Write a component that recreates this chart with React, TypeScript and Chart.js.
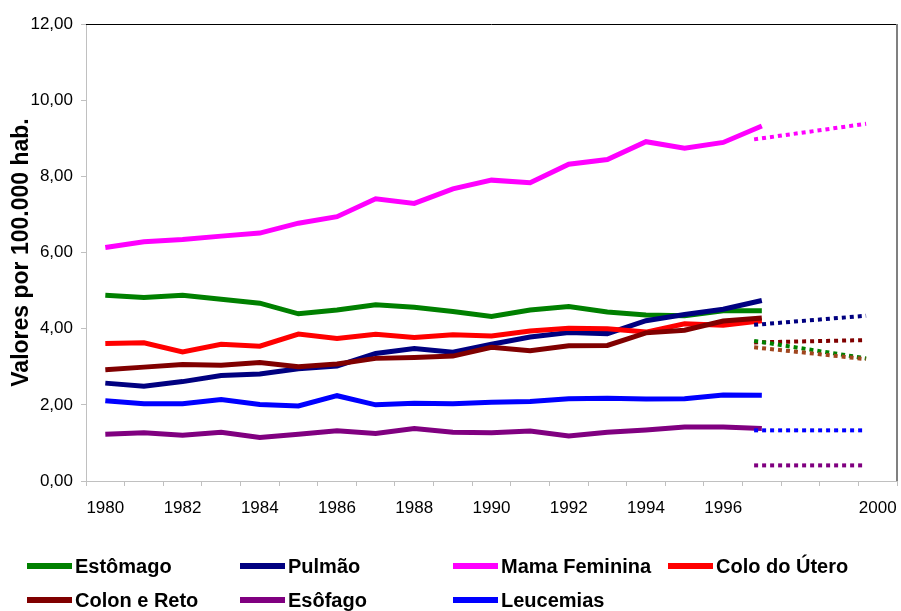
import React, { useEffect, useRef } from 'react';
import { Chart, registerables } from 'chart.js';

Chart.register(...registerables);

// Categories (one per year band) and the labels actually shown on the axis
const categories = [
  '1980', '1981', '1982', '1983', '1984', '1985', '1986', '1987', '1988', '1989',
  '1990', '1991', '1992', '1993', '1994', '1995', '1996', '1997', '1998', '1999', '2000',
];
const shownYearLabels = ['1980', '1982', '1984', '1986', '1988', '1990', '1992', '1994', '1996', '2000'];

// Observed series 1980-1997
const estomago = [4.88, 4.82, 4.88, 4.77, 4.67, 4.39, 4.49, 4.63, 4.56, 4.45, 4.32, 4.49, 4.58, 4.44, 4.36, 4.34, 4.47, 4.47];
const pulmao = [2.57, 2.49, 2.61, 2.77, 2.81, 2.95, 3.02, 3.35, 3.48, 3.38, 3.59, 3.78, 3.9, 3.87, 4.21, 4.37, 4.51, 4.74];
const mamaFeminina = [6.13, 6.28, 6.34, 6.43, 6.51, 6.77, 6.94, 7.41, 7.29, 7.67, 7.9, 7.83, 8.32, 8.44, 8.91, 8.74, 8.89, 9.32];
const coloUtero = [3.61, 3.63, 3.39, 3.59, 3.54, 3.86, 3.74, 3.85, 3.77, 3.84, 3.81, 3.94, 4.01, 4.0, 3.91, 4.13, 4.09, 4.21];
const colonReto = [2.92, 2.99, 3.06, 3.04, 3.11, 3.0, 3.07, 3.22, 3.24, 3.28, 3.51, 3.42, 3.55, 3.56, 3.89, 3.96, 4.2, 4.28];
const esofago = [1.23, 1.27, 1.2, 1.28, 1.14, 1.23, 1.32, 1.25, 1.38, 1.28, 1.27, 1.31, 1.18, 1.28, 1.34, 1.42, 1.42, 1.38];
const leucemias = [2.11, 2.03, 2.03, 2.14, 2.01, 1.97, 2.24, 2.0, 2.04, 2.03, 2.07, 2.09, 2.16, 2.17, 2.15, 2.16, 2.26, 2.25];

// Projections (dotted), start and end year positions
const projYears = [1996.8, 1999.7];
const projMama = [8.97, 9.38];
const projPulmao = [4.1, 4.34];
const projColon = [3.64, 3.7];
const projEstomago = [3.68, 3.22];
const projColo = [3.51, 3.2];
const projLeucemias = [1.33, 1.33];
const projEsofago = [0.41, 0.41];

const yMin = 0;
const yMax = 12;
const yStep = 2;

const series = [
  { label: 'Estômago', data: estomago, color: '#008000' },
  { label: 'Pulmão', data: pulmao, color: '#000080' },
  { label: 'Mama Feminina', data: mamaFeminina, color: '#FF00FF' },
  { label: 'Colo do Útero', data: coloUtero, color: '#FF0000' },
  { label: 'Colon e Reto', data: colonReto, color: '#800000' },
  { label: 'Esôfago', data: esofago, color: '#800080' },
  { label: 'Leucemias', data: leucemias, color: '#0000FF' },
];

const projections = [
  { data: projMama, color: '#FF00FF' },
  { data: projPulmao, color: '#000080' },
  { data: projColon, color: '#800000' },
  { data: projEstomago, color: '#008000' },
  { data: projColo, color: '#A0461E' },
  { data: projLeucemias, color: '#0000FF' },
  { data: projEsofago, color: '#800080' },
];

const legendRows = [
  ['Estômago', 'Pulmão', 'Mama Feminina', 'Colo do Útero'],
  ['Colon e Reto', 'Esôfago', 'Leucemias'],
];

const FONT = '"Liberation Sans", Arial, sans-serif';

const plotBorder = {
  id: 'plotBorder',
  afterDraw(chart: any) {
    const { ctx, chartArea } = chart;
    ctx.save();
    ctx.strokeStyle = '#000000';
    ctx.lineWidth = 1;
    ctx.beginPath();
    ctx.moveTo(chartArea.left, chartArea.top + 0.5);
    ctx.lineTo(chartArea.right, chartArea.top + 0.5);
    ctx.stroke();
    ctx.strokeStyle = '#808080';
    ctx.lineWidth = 2;
    ctx.beginPath();
    ctx.moveTo(chartArea.right, chartArea.top);
    ctx.lineTo(chartArea.right, chartArea.bottom);
    ctx.stroke();
    ctx.restore();
  },
};

export default function App() {
  const canvasRef = useRef<HTMLCanvasElement | null>(null);

  useEffect(() => {
    if (!canvasRef.current) return;
    const solidSets = series.map((s, i) => ({
      label: s.label,
      data: s.data,
      borderColor: s.color,
      backgroundColor: s.color,
      borderWidth: 5,
      pointRadius: 0,
      tension: 0,
      fill: false,
      xAxisID: 'x',
      order: 20 - i,
    }));
    const projSets = projections.map((p, i) => ({
      label: 'proj' + i,
      data: projYears.map((yr, k) => ({ x: yr, y: p.data[k] })),
      borderColor: p.color,
      backgroundColor: p.color,
      borderWidth: 4,
      borderDash: [4, 4],
      borderCapStyle: 'butt',
      pointRadius: 0,
      tension: 0,
      fill: false,
      xAxisID: 'xp',
      order: 10 - i,
    }));

    const chart = new Chart(canvasRef.current, {
      type: 'line',
      data: { labels: categories, datasets: [...solidSets, ...projSets] as any },
      options: {
        animation: false,
        responsive: false,
        maintainAspectRatio: false,
        layout: { padding: { left: 0, top: 24, right: 4, bottom: 90 } },
        plugins: {
          legend: { display: false },
          tooltip: { enabled: false },
        },
        scales: {
          x: {
            type: 'category',
            offset: true,
            afterFit: (scale: any) => {
              scale.height = 40;
              scale.paddingLeft = 0;
              scale.paddingRight = 0;
            },
            grid: {
              offset: true,
              drawOnChartArea: false,
              drawTicks: true,
              tickLength: 5,
              color: '#C0C0C0',
            },
            border: { color: '#C0C0C0', width: 1 },
            ticks: {
              autoSkip: false,
              maxRotation: 0,
              padding: 12,
              color: '#000000',
              font: { family: FONT, size: 17 },
              callback: function (this: any, value: any) {
                const lab = categories[value as number];
                return shownYearLabels.includes(lab) ? lab : '';
              },
            },
          },
          xp: {
            type: 'linear',
            display: false,
            min: 1979.5,
            max: 2000.5,
          },
          y: {
            type: 'linear',
            min: yMin,
            max: yMax,
            afterFit: (scale: any) => {
              scale.width = 86;
              scale.paddingTop = 0;
              scale.paddingBottom = 0;
            },
            grid: {
              drawOnChartArea: false,
              drawTicks: true,
              tickLength: 5,
              color: '#C0C0C0',
            },
            border: { color: '#C0C0C0', width: 1 },
            ticks: {
              stepSize: yStep,
              padding: 8,
              color: '#000000',
              font: { family: FONT, size: 17 },
              callback: (v: any) => Number(v).toFixed(2).replace('.', ','),
            },
            title: {
              display: true,
              text: 'Valores por 100.000 hab.',
              color: '#000000',
              font: { family: FONT, size: 23, weight: 'bold' },
              padding: { top: 8, bottom: 0 },
            },
          },
        },
      },
      plugins: [plotBorder],
    });
    return () => chart.destroy();
  }, []);

  const colX = [27, 240, 453, 668];
  const rowY = [566, 600];
  const colorOf = (label: string) => series.find((s) => s.label === label)?.color || '#000';

  return (
    <div style={{ position: 'fixed', left: 0, top: 0, width: 901, height: 611, background: '#ffffff', overflow: 'hidden' }}>
      <canvas ref={canvasRef} width={901} height={611} style={{ position: 'absolute', left: 0, top: 0, width: 901, height: 611 }} />
      {legendRows.map((row, r) =>
        row.map((label, c) => (
          <div
            key={label}
            style={{
              position: 'absolute',
              left: colX[c],
              top: rowY[r] - 14,
              height: 28,
              display: 'flex',
              alignItems: 'center',
              whiteSpace: 'nowrap',
              fontFamily: FONT,
              fontWeight: 'bold',
              fontSize: 20,
              color: '#000',
            }}
          >
            <span style={{ display: 'inline-block', width: 45, height: 6, background: colorOf(label), marginRight: 3 }} />
            <span>{label}</span>
          </div>
        ))
      )}
    </div>
  );
}
